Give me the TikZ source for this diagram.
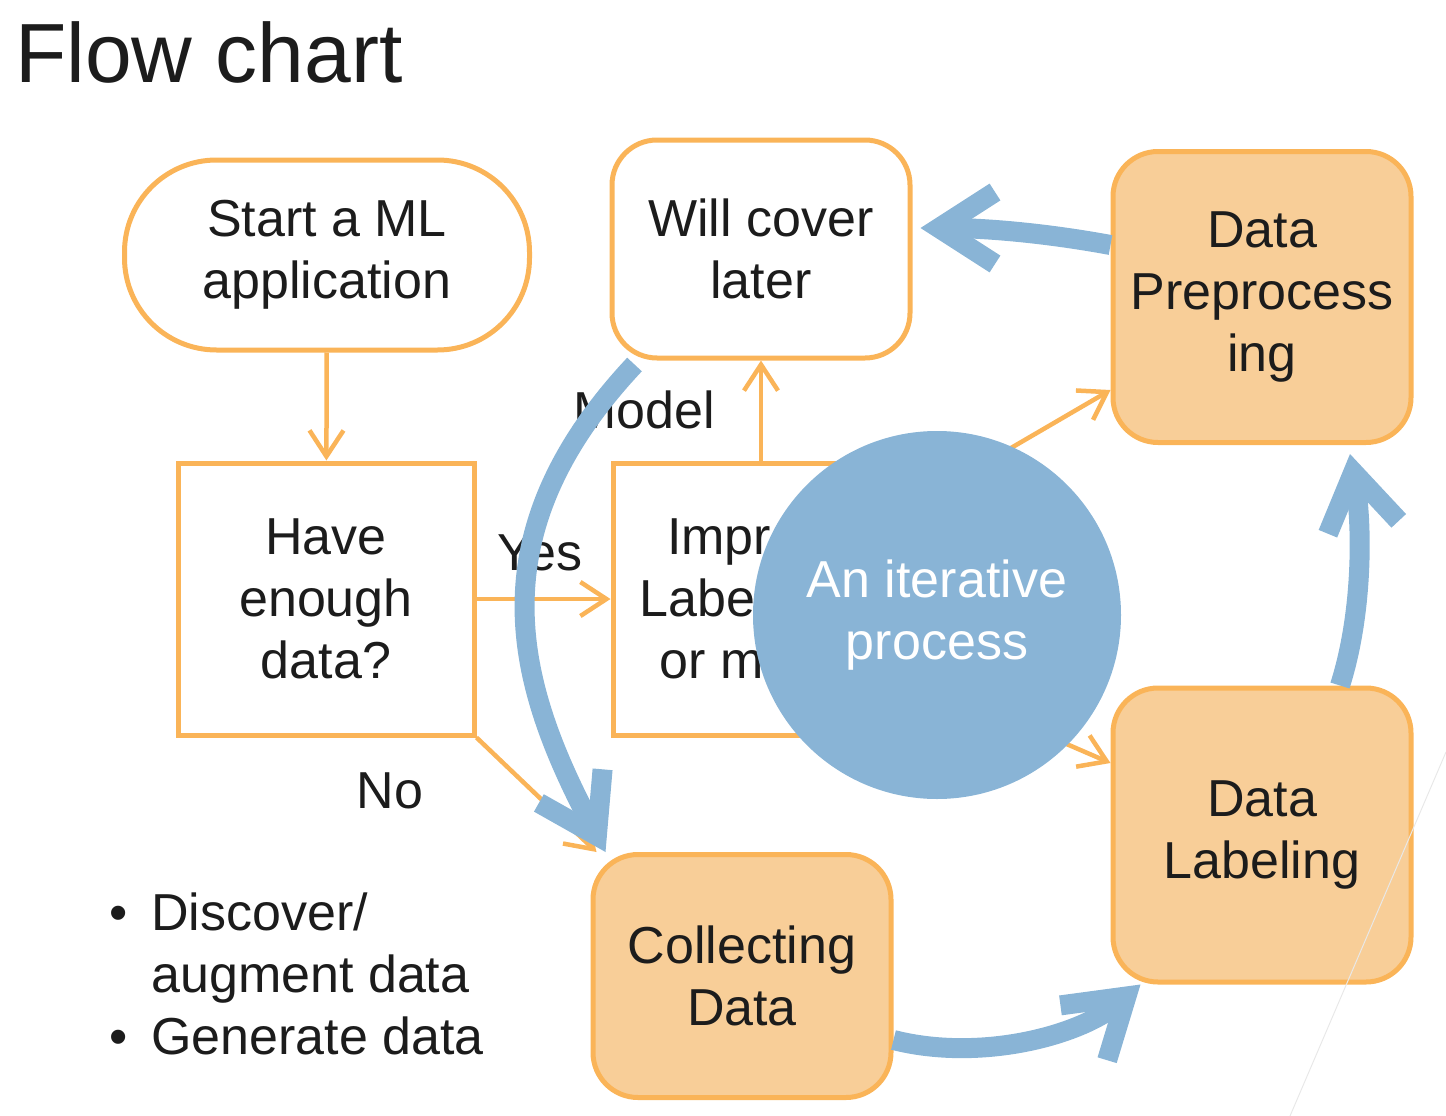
\documentclass[tikz,border=0pt]{standalone}
\usepackage{fontspec}
\setmainfont{Liberation Sans}
\usetikzlibrary{arrows.meta}

\definecolor{flowline}{RGB}{250,180,88}
\definecolor{flowfill}{RGB}{248,206,152}
\definecolor{loopblue}{RGB}{137,180,214}
\definecolor{ink}{RGB}{28,28,28}

\tikzset{
  every node/.style={font=\fontsize{52}{62}\selectfont, text=ink, align=center, inner sep=0pt},
  terminal/.style={draw=flowline, line width=5pt, fill=white, rounded corners=92pt,
    minimum width=405pt, minimum height=190pt},
  decision/.style={draw=flowline, line width=5pt, fill=white,
    minimum width=296pt, minimum height=272pt},
  later/.style={draw=flowline, line width=5pt, fill=white, rounded corners=45pt,
    minimum width=298pt, minimum height=218pt},
  stage/.style={draw=flowline, line width=5pt, fill=flowfill, rounded corners=45pt,
    minimum width=298pt},
  flow/.style={draw=flowline, line width=4.5pt, -{Straight Barb[length=26pt,width=34pt]}},
  loop/.style={draw=loopblue, line width=20pt, -{Straight Barb[length=56pt,width=72pt]}},
}

\begin{document}
\begin{tikzpicture}[x=1pt,y=-1pt]
  \useasboundingbox (0,0) rectangle (1446,1116);
  % title
  \node[anchor=base west, font=\fontsize{84}{96}\selectfont] (title) at (15,83) {Flow chart};
  % vertices
  \node[terminal] (start) at (327,255) {Start a ML\\application};
  \node[decision] (have) at (326,599) {Have\\enough\\data?};
  \node[decision] (improve) at (761,599) {Improve\\Label data\\or model};
  \node[later] (cover) at (761,249) {Will cover\\later};
  \node[stage, minimum height=243pt] (collect) at (742,976) {Collecting\\Data};
  \node[stage, minimum height=294pt] (labeling) at (1262,835) {Data\\Labeling};
  \node[stage, minimum height=291pt] (prep) at (1262,297) {Data\\Preprocess\\ing};
  % edges
  \draw[flow] (start) -- (have);
  \draw[flow] (have) -- (improve);
  \draw[flow] (improve) -- (cover);
  \draw[flow] (have.south east) -- ([xshift=6pt]collect.north west);
  \draw[flow] ([yshift=93pt]improve.east) -- ([yshift=-93pt]prep.west);
  \draw[flow] ([yshift=-78pt]improve.east) -- ([yshift=72pt]labeling.west);
  % edge labels
  \node[anchor=base] (yes) at (540,570) {Yes};
  \node[anchor=base] (no) at (390,808) {No};
  \node[anchor=base] (model) at (644,428) {Model};
  % side notes
  \node[anchor=base west] (notes) at (109,930) {\begin{tabular}[t]{@{}l@{\hspace{24pt}}l@{}}
    \textbullet & Discover/\\
                & augment data\\
    \textbullet & Generate data
  \end{tabular}};
  % the loop
  \draw[loop] ([yshift=52pt]prep.west) .. controls (1040,232) and (980,228) .. ([shift={(8pt,21pt)}]cover.east);
  \draw[loop] ([shift={(25pt,-4pt)}]cover.south west) .. controls (470,540) and (520,690) .. ([xshift=15pt]collect.north west);
  \draw[loop] ([yshift=-64pt]collect.east) .. controls (980,1062) and (1080,1036) .. ([xshift=30pt]labeling.south west);
  \draw[loop] ([xshift=78pt]labeling.north) .. controls (1364,610) and (1362,520) .. ([shift={(88pt,-9pt)}]prep.south);
  \node[circle, fill=loopblue, minimum size=368pt, text=white] (iter) at (937,615) {An iterative\\process};
  % slide edge
  \draw[gray!18, line width=1pt] (1446,752) -- (1290,1116);
\end{tikzpicture}
\end{document}
